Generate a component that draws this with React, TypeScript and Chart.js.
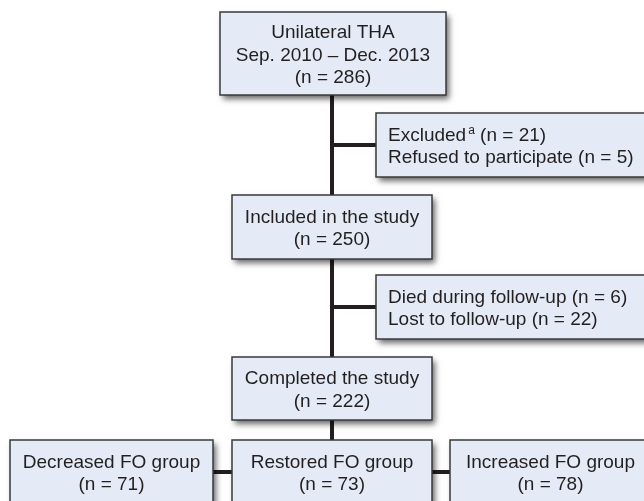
import React, { useEffect, useRef } from "react";
import { Chart, registerables } from "chart.js";

Chart.register(...registerables);

// ---------- data ----------
const stageLabels: string[][] = [
  ["Unilateral THA", "Sep. 2010 – Dec. 2013"],
  ["Included in the study"],
  ["Completed the study"],
];
const stageCounts: number[] = [286, 250, 222];

const exclusionLabels: string[][] = [
  ["Excluded", "Refused to participate"],
  ["Died during follow-up", "Lost to follow-up"],
];
const exclusionCounts: number[][] = [
  [21, 5],
  [6, 22],
];
const exclusionNotes: string[][] = [
  ["a", ""],
  ["", ""],
];

const groupLabels: string[] = ["Decreased FO group", "Restored FO group", "Increased FO group"];
const groupCounts: number[] = [71, 73, 78];

// ---------- layout (in the chart's own scale units) ----------
const W = 644;
const H = 501;
const stageBoxes = [
  [220, 12, 446, 95],
  [232, 195, 432, 259],
  [232, 357, 432, 420],
];
const exclusionBoxes = [
  [376, 113, 652, 177],
  [376, 275, 652, 339],
];
const groupBoxes = [
  [10, 440, 213, 506],
  [232, 440, 432, 506],
  [450, 440, 651, 506],
];
const groupLinkOffset = 32;

const STYLE = {
  fill: "#e5ebf6",
  stroke: "#3a3a3a",
  line: "#231f20",
  text: "#231f20",
  family: '"Liberation Sans", Arial, Helvetica, sans-serif',
  size: 19,
  noteSize: 12,
  lineH: 22.5,
  textShift: 2,
};

function spineX() {
  const b = stageBoxes[1];
  return (b[0] + b[2]) / 2;
}

export default function App() {
  const ref = useRef<HTMLCanvasElement | null>(null);

  useEffect(() => {
    const canvas = ref.current;
    if (!canvas) return;
    const sx = spineX();

    const connectors: { x: number; y: number }[][] = [
      [
        { x: sx, y: stageBoxes[0][3] },
        { x: sx, y: groupBoxes[1][1] },
      ],
      ...exclusionBoxes.map((b) => {
        const my = (b[1] + b[3]) / 2;
        return [
          { x: sx, y: my },
          { x: b[0], y: my },
        ];
      }),
      [
        { x: groupBoxes[0][2], y: groupBoxes[0][1] + groupLinkOffset },
        { x: groupBoxes[2][0], y: groupBoxes[2][1] + groupLinkOffset },
      ],
    ];

    const boxPlugin = {
      id: "flowBoxes",
      afterDatasetsDraw(chart: any) {
        const ctx: CanvasRenderingContext2D = chart.ctx;
        const xs = chart.scales.x;
        const ys = chart.scales.y;
        const rect = (b: number[]) => {
          const x0 = xs.getPixelForValue(b[0]);
          const x1 = xs.getPixelForValue(b[2]);
          const y0 = ys.getPixelForValue(b[1]);
          const y1 = ys.getPixelForValue(b[3]);
          return { x0, y0, x1, y1, w: x1 - x0, h: y1 - y0 };
        };
        const drawBox = (b: number[]) => {
          const r = rect(b);
          ctx.save();
          ctx.shadowColor = "rgba(0,0,0,0.6)";
          ctx.shadowBlur = 6;
          ctx.shadowOffsetX = 3;
          ctx.shadowOffsetY = 4;
          ctx.fillStyle = STYLE.fill;
          ctx.fillRect(r.x0, r.y0, r.w, r.h);
          ctx.restore();
          ctx.save();
          ctx.strokeStyle = STYLE.stroke;
          ctx.lineWidth = 1.5;
          ctx.strokeRect(r.x0, r.y0, r.w, r.h);
          ctx.restore();
          return r;
        };
        const font = (s: number) => `${s}px ${STYLE.family}`;

        const centeredText = (r: any, lines: string[], cy?: number) => {
          const mid = cy !== undefined ? cy : (r.y0 + r.y1) / 2;
          const start = mid - ((lines.length - 1) * STYLE.lineH) / 2 + STYLE.textShift;
          ctx.save();
          ctx.fillStyle = STYLE.text;
          ctx.font = font(STYLE.size);
          ctx.textAlign = "center";
          ctx.textBaseline = "middle";
          lines.forEach((t, i) => ctx.fillText(t, (r.x0 + r.x1) / 2, start + i * STYLE.lineH));
          ctx.restore();
        };

        // stage boxes
        stageBoxes.forEach((b, i) => {
          const r = drawBox(b);
          centeredText(r, [...stageLabels[i], `(n = ${stageCounts[i]})`]);
        });

        // exclusion boxes
        exclusionBoxes.forEach((b, i) => {
          const r = drawBox(b);
          const labels = exclusionLabels[i];
          const mid = (r.y0 + r.y1) / 2;
          const start = mid - ((labels.length - 1) * STYLE.lineH) / 2 + STYLE.textShift;
          ctx.save();
          ctx.fillStyle = STYLE.text;
          ctx.textAlign = "left";
          ctx.textBaseline = "middle";
          labels.forEach((lab, j) => {
            const y = start + j * STYLE.lineH;
            let x = r.x0 + 12;
            ctx.font = font(STYLE.size);
            ctx.fillText(lab, x, y);
            x += ctx.measureText(lab).width;
            const note = exclusionNotes[i][j];
            if (note) {
              x += 2;
              ctx.font = font(STYLE.noteSize);
              ctx.fillText(note, x, y - 5);
              x += ctx.measureText(note).width;
              ctx.font = font(STYLE.size);
            }
            ctx.fillText(` (n = ${exclusionCounts[i][j]})`, x, y);
          });
          ctx.restore();
        });

        // group boxes
        groupBoxes.forEach((b, i) => {
          const r = drawBox(b);
          const cy = ys.getPixelForValue(b[1] + groupLinkOffset);
          centeredText(r, [groupLabels[i], `(n = ${groupCounts[i]})`], cy);
        });
      },
    };

    const chart = new Chart(canvas, {
      type: "scatter",
      data: {
        datasets: connectors.map((pts) => ({
          data: pts,
          showLine: true,
          borderColor: STYLE.line,
          backgroundColor: STYLE.line,
          borderWidth: 4,
          pointRadius: 0,
          pointHoverRadius: 0,
          borderCapStyle: "butt" as const,
          tension: 0,
        })),
      },
      options: {
        responsive: false,
        animation: false,
        events: [],
        layout: { padding: 0 },
        plugins: {
          legend: { display: false },
          tooltip: { enabled: false },
          title: { display: false },
        },
        scales: {
          x: { type: "linear", min: 0, max: W, display: false },
          y: { type: "linear", min: 0, max: H, reverse: true, display: false },
        },
      },
      plugins: [boxPlugin],
    });
    return () => chart.destroy();
  }, []);

  return (
    <div style={{ position: "absolute", left: 0, top: 0, width: W, height: H, background: "#fff" }}>
      <canvas ref={ref} width={W} height={H} style={{ display: "block" }} />
    </div>
  );
}
